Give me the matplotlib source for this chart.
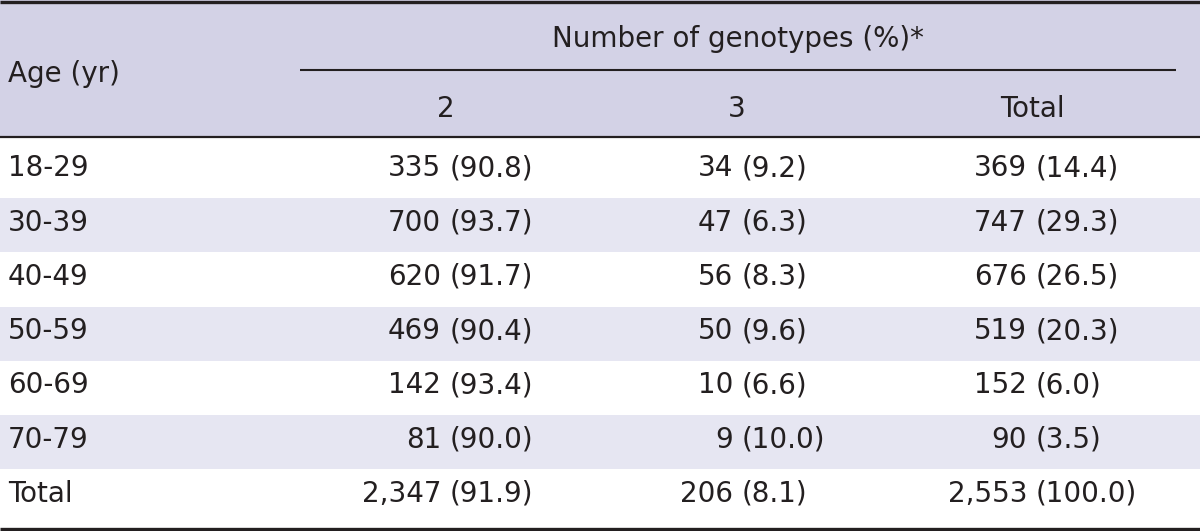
import matplotlib
matplotlib.use('Agg')
import matplotlib.pyplot as plt

ages = ['18-29', '30-39', '40-49', '50-59', '60-69', '70-79', 'Total']
n_two = [335, 700, 620, 469, 142, 81, 2347]
pct_two = [90.8, 93.7, 91.7, 90.4, 93.4, 90.0, 91.9]
n_three = [34, 47, 56, 50, 10, 9, 206]
pct_three = [9.2, 6.3, 8.3, 9.6, 6.6, 10.0, 8.1]
n_total = [369, 747, 676, 519, 152, 90, 2553]
pct_total = [14.4, 29.3, 26.5, 20.3, 6.0, 3.5, 100.0]

sub_heads = ['2', '3', 'Total']
group_head = 'Number of genotypes (%)*'
first_head = 'Age (yr)'

W, H = 1200, 531
fig = plt.figure(figsize=(W / 100, H / 100), dpi=100)
ax = fig.add_axes([0, 0, 1, 1])
ax.set_xlim(0, W)
ax.set_ylim(H, 0)
ax.axis('off')

ink = '#231f20'
head_bg = '#d3d2e6'
stripe_bg = '#e6e6f2'
fs = 20

# header block
ax.add_patch(plt.Rectangle((0, 0), W, 138, color=head_bg, lw=0))
ax.plot([0, W], [1.5, 1.5], color=ink, lw=2.4, solid_capstyle='butt')
ax.plot([0, W], [137, 137], color=ink, lw=1.6, solid_capstyle='butt')
ax.plot([300, 1176], [69.5, 69.5], color=ink, lw=1.5, solid_capstyle='butt')

ax.text(8, 82, first_head, fontsize=fs, color=ink, ha='left', va='baseline')
ax.text(738, 47, group_head, fontsize=fs, color=ink, ha='center', va='baseline')
col_centers = [446, 737, 1032]
for x, s in zip(col_centers, sub_heads):
    ax.text(x, 117, s, fontsize=fs, color=ink, ha='center', va='baseline')

# body rows
row_h = 54.2
row0 = 144
count_right = [441, 733, 1027]
pct_left = [450, 742, 1036]
cols = [(n_two, pct_two), (n_three, pct_three), (n_total, pct_total)]

for i, age in enumerate(ages):
    top = row0 + row_h * i
    if i % 2 == 1:
        ax.add_patch(plt.Rectangle((0, top), W, row_h, color=stripe_bg, lw=0))
    base = top + 32.5
    ax.text(8, base, age, fontsize=fs, color=ink, ha='left', va='baseline')
    for j, (ns, ps) in enumerate(cols):
        ax.text(count_right[j], base, f'{ns[i]:,}', fontsize=fs, color=ink,
                ha='right', va='baseline')
        ax.text(pct_left[j], base, f'({ps[i]:.1f})', fontsize=fs, color=ink,
                ha='left', va='baseline')

ax.plot([0, W], [528.5, 528.5], color=ink, lw=2.4, solid_capstyle='butt')

fig.savefig('out.png', dpi=100, facecolor='white')
